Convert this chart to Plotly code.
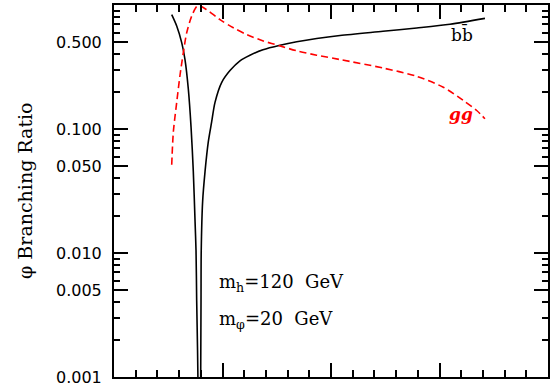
import plotly.graph_objects as go

# phi -> b bbar (black solid)
x_bb = [0.532, 0.578, 0.624, 0.654, 0.685, 0.710, 0.731, 0.747, 0.756, 0.762, 0.770,
        0.779, 0.788, 0.797, 0.802, 0.804, 0.817, 0.839, 0.869, 0.900, 0.931, 0.993,
        1.069, 1.161, 1.253, 1.373, 1.530, 1.684, 1.868, 2.083, 2.479, 2.790, 3.097, 3.419]
br_bb = [0.835, 0.676, 0.497, 0.365, 0.210, 0.104, 0.0453, 0.0180, 0.0104, 0.00413, 0.00164,
         0.0004, 0.00001, 0.0004, 0.00413, 0.0104, 0.0261, 0.0453, 0.0787, 0.114, 0.164, 0.238,
         0.296, 0.355, 0.394, 0.435, 0.473, 0.505, 0.537, 0.568, 0.614, 0.653, 0.700, 0.780]

# phi -> g g (red dashed)
x_gg = [0.532, 0.547, 0.578, 0.608, 0.639, 0.670, 0.716, 0.762, 0.788, 0.854, 0.977,
        1.100, 1.223, 1.376, 1.530, 1.684, 1.868, 2.083, 2.482, 2.790, 3.035, 3.219, 3.343, 3.419]
br_gg = [0.0515, 0.0946, 0.164, 0.270, 0.413, 0.597, 0.813, 0.970, 0.985, 0.916, 0.762,
         0.655, 0.578, 0.513, 0.468, 0.427, 0.394, 0.363, 0.310, 0.266, 0.217, 0.170, 0.141, 0.121]

y_ticks = [0.001, 0.005, 0.01, 0.05, 0.1, 0.5]
y_labels = ["0.001", "0.005", "0.010", "0.050", "0.100", "0.500"]
y_minor = [m * 10.0 ** e for e in (-3, -2, -1) for m in (2, 3, 4, 6, 7, 8, 9)]

fig = go.Figure()
fig.add_trace(go.Scatter(x=x_bb, y=br_bb, mode="lines", name="bb",
                         line=dict(color="black", width=1.6, shape="spline", smoothing=0.8)))
fig.add_trace(go.Scatter(x=x_gg, y=br_gg, mode="lines", name="gg",
                         line=dict(color="red", width=1.6, dash="7px,4px",
                                   shape="spline", smoothing=0.8)))

serif = "DejaVu Serif"

fig.update_layout(
    width=554, height=387,
    margin=dict(l=114, r=6, t=3, b=10),
    paper_bgcolor="white", plot_bgcolor="white",
    showlegend=False,
    xaxis=dict(range=[0, 4], showgrid=False, zeroline=False,
               showline=True, linecolor="black", linewidth=2, mirror="ticks",
               ticks="inside", tickvals=[1, 2, 3], ticklen=14, tickwidth=1.5,
               tickcolor="black", showticklabels=False,
               minor=dict(ticks="inside", dtick=0.2, tick0=0, ticklen=7,
                          tickwidth=1.5, tickcolor="black", showgrid=False)),
    yaxis=dict(type="log", range=[-3, 0], showgrid=False, zeroline=False,
               showline=True, linecolor="black", linewidth=2, mirror="ticks",
               ticks="inside", tickvals=y_ticks, ticktext=y_labels, ticklen=14,
               tickwidth=1.5, tickcolor="black", ticklabelstandoff=7,
               automargin=False,
               tickfont=dict(family="DejaVu Sans", size=16, color="black"),
               minor=dict(ticks="inside", tickmode="array", tickvals=y_minor,
                          ticklen=6, tickwidth=1.5, tickcolor="black", showgrid=False)),
)

fig.add_annotation(xref="paper", yref="paper", x=-0.235, y=0.5, textangle=-90,
                   text="\u03c6 Branching Ratio", showarrow=False,
                   font=dict(family=serif, size=19, color="black"))
fig.add_annotation(x=3.21, y=-0.232, text="bb\u0304", showarrow=False,
                   font=dict(family=serif, size=17, color="black"))
fig.add_annotation(x=3.20, y=-0.88, text="<b><i>gg</i></b>", showarrow=False,
                   font=dict(family=serif, size=17, color="red"))
fig.add_annotation(x=0.949, y=-2.24, xanchor="left", showarrow=False,
                   text="m<sub>h</sub>=120  GeV",
                   font=dict(family=serif, size=18, color="black"))
fig.add_annotation(x=0.949, y=-2.544, xanchor="left", showarrow=False,
                   text="m<sub>\u03c6</sub>=20  GeV",
                   font=dict(family=serif, size=18, color="black"))

# page body has a default 8px margin; remove it so the chart sits at the window corner
fig.write_html("out.html", config={"displayModeBar": False},
               post_script="document.body.style.margin='0';")
